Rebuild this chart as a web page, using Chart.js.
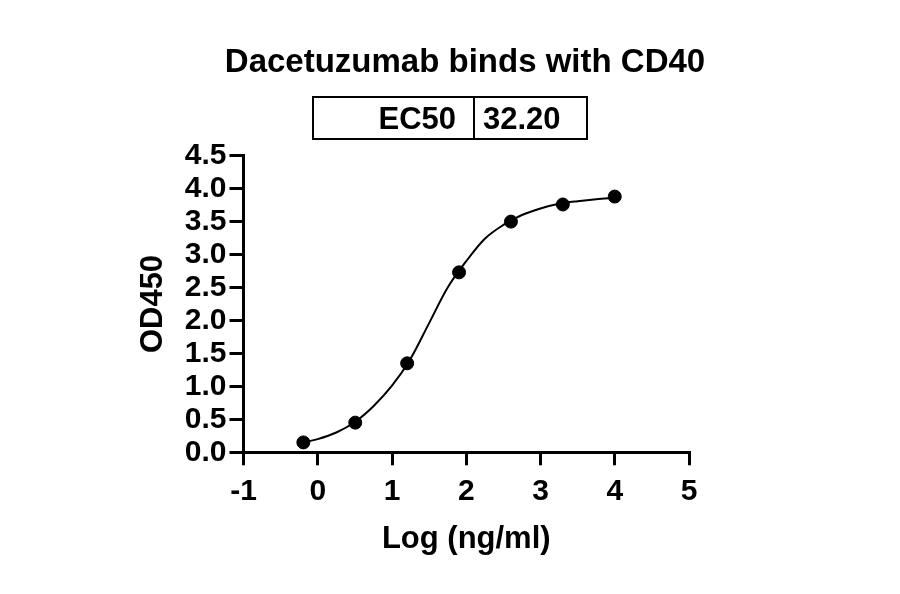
<!DOCTYPE html>
<html>
<head>
<meta charset="utf-8">
<script src="https://cdn.jsdelivr.net/npm/chart.js@4.4.1/dist/chart.umd.min.js"></script>
<style>
  html, body { margin: 0; padding: 0; background: #fff; }
  #wrap { width: 900px; height: 594px; }
</style>
</head>
<body>
<div id="wrap"><canvas id="chart" width="900" height="594"></canvas></div>
<script>
// measured points (log10 ng/ml vs OD450)
const logConc = [-0.194, 0.505, 1.204, 1.903, 2.602, 3.301, 4.0];
const od450 = [0.15, 0.45, 1.35, 2.73, 3.50, 3.76, 3.88];

// fitted curve
const fitX = [-0.194, 0.0, 0.25, 0.5, 0.75, 1.0, 1.25, 1.5, 1.75, 2.0, 2.25, 2.5, 2.75, 3.0, 3.25, 3.5, 3.75, 4.0];
const fitY = [0.15, 0.20, 0.30, 0.46, 0.70, 1.01, 1.42, 1.96, 2.50, 2.90, 3.24, 3.45, 3.60, 3.70, 3.77, 3.81, 3.84, 3.86];

const chartTitle = 'Dacetuzumab binds with CD40';
const ec50Label = 'EC50';
const ec50Value = '32.20';
const xTitle = 'Log (ng/ml)';
const yTitle = 'OD450';

const FONT = "'Liberation Sans', Arial, sans-serif";

const headerPlugin = {
    id: 'header',
    afterDraw(chart) {
        const ctx = chart.ctx;
        ctx.save();
        ctx.fillStyle = '#000';
        ctx.font = 'bold 33px ' + FONT;
        ctx.textAlign = 'center';
        ctx.textBaseline = 'alphabetic';
        ctx.fillText(chartTitle, 465, 72);

        // EC50 table
        ctx.strokeStyle = '#000';
        ctx.lineWidth = 2;
        ctx.strokeRect(313, 97, 274, 42);
        ctx.beginPath();
        ctx.moveTo(474, 97);
        ctx.lineTo(474, 139);
        ctx.stroke();

        ctx.font = 'bold 31px ' + FONT;
        ctx.textAlign = 'right';
        ctx.fillText(ec50Label, 456, 129);
        ctx.textAlign = 'left';
        ctx.fillText(ec50Value, 483, 129);
        ctx.restore();
    }
};

const fitData = fitX.map((x, i) => ({ x: x, y: fitY[i] }));
const pointData = logConc.map((x, i) => ({ x: x, y: od450[i] }));

new Chart(document.getElementById('chart'), {
    type: 'scatter',
    data: {
        datasets: [
            {
                data: fitData,
                showLine: true,
                borderColor: '#000',
                borderWidth: 2,
                pointRadius: 0,
                cubicInterpolationMode: 'monotone',
                order: 2
            },
            {
                data: pointData,
                showLine: false,
                pointRadius: 6.5,
                pointBackgroundColor: '#000',
                pointBorderColor: '#000',
                order: 1
            }
        ]
    },
    options: {
        responsive: false,
        animation: false,
        devicePixelRatio: 1,
        layout: { padding: { left: 130, top: 155.7, right: 211, bottom: 36 } },
        plugins: {
            legend: { display: false },
            tooltip: { enabled: false }
        },
        scales: {
            x: {
                type: 'linear',
                min: -1,
                max: 5,
                afterFit(scale) { scale.height = 105.7; },
                ticks: {
                    stepSize: 1,
                    autoSkip: false,
                    color: '#000',
                    padding: 8,
                    font: { family: FONT, size: 30, weight: 'bold' }
                },
                grid: {
                    drawOnChartArea: false,
                    drawTicks: true,
                    tickLength: 13,
                    lineWidth: 3,
                    color: '#000'
                },
                border: { display: true, width: 3, color: '#000' },
                title: {
                    display: true,
                    text: xTitle,
                    color: '#000',
                    padding: { top: 0, bottom: 0 },
                    font: { family: FONT, size: 31, weight: 'bold' }
                }
            },
            y: {
                type: 'linear',
                min: 0,
                max: 4.5,
                afterFit(scale) { scale.width = 113.5; },
                ticks: {
                    stepSize: 0.5,
                    autoSkip: false,
                    color: '#000',
                    padding: 3,
                    callback: v => v.toFixed(1),
                    font: { family: FONT, size: 30, weight: 'bold' }
                },
                grid: {
                    drawOnChartArea: false,
                    drawTicks: true,
                    tickLength: 14,
                    lineWidth: 3,
                    color: '#000'
                },
                border: { display: true, width: 3, color: '#000' },
                title: {
                    display: true,
                    text: yTitle,
                    color: '#000',
                    padding: { top: 5, bottom: 0 },
                    font: { family: FONT, size: 31, weight: 'bold' }
                }
            }
        }
    },
    plugins: [headerPlugin]
});
</script>
</body>
</html>
